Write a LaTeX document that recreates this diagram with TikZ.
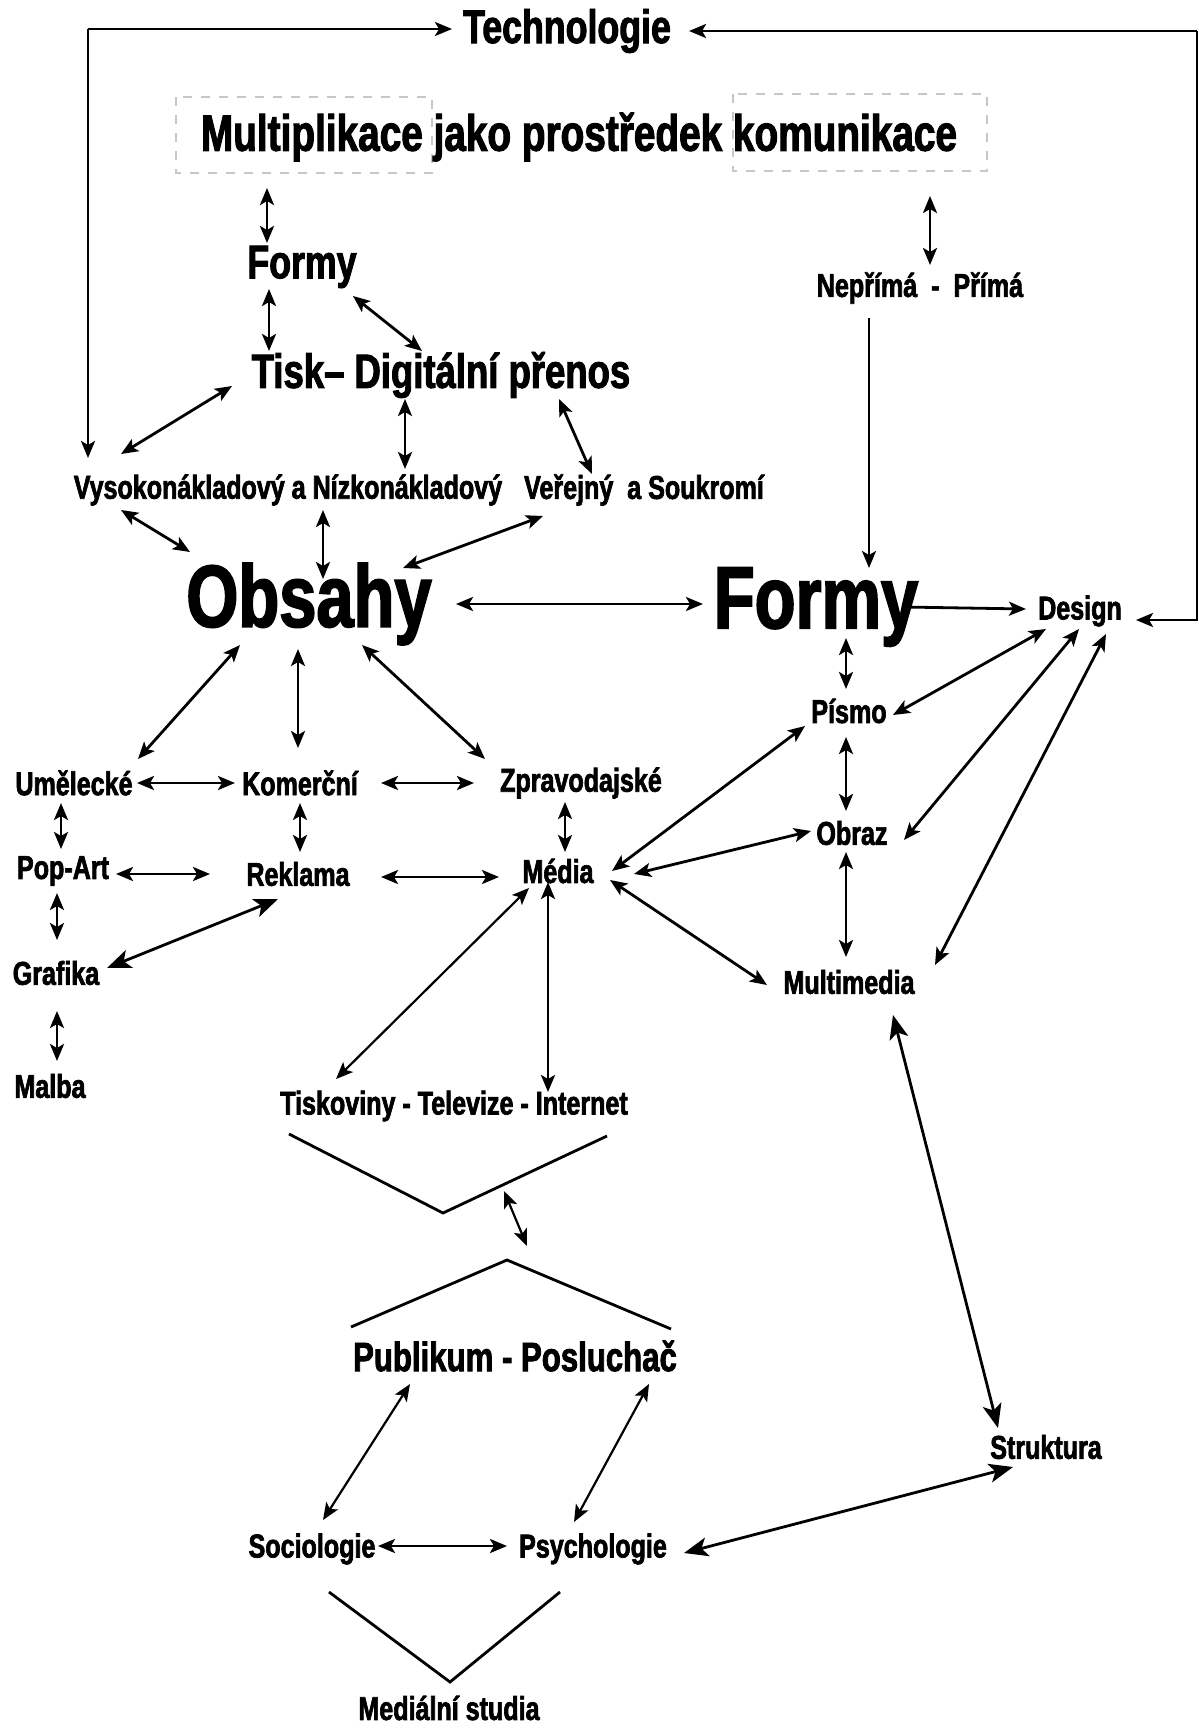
\documentclass[tikz,border=0pt]{standalone}
\usepackage{fontspec}
\setmainfont{Liberation Sans}[FakeStretch=0.76,BoldFeatures={FakeBold=2}]
\usetikzlibrary{arrows.meta}
\begin{document}
\begin{tikzpicture}[x=1pt,y=-1pt,
  every node/.style={inner sep=0pt,outer sep=0pt},
  sm/.style={font=\fontsize{33}{36}\selectfont\bfseries},
  md/.style={font=\fontsize{47}{50}\selectfont\bfseries},
  bg/.style={font=\fontsize{88}{90}\selectfont\bfseries},
  con/.style={line width=2.8pt},
  tip/.tip={Stealth[length=17pt,width=14pt,inset=4pt]},
  bigtip/.tip={Stealth[length=24pt,width=19pt,inset=6pt]},
  dbl/.style={con,tip-tip},
  one/.style={con,-tip},
  boxd/.style={draw=black!22,line width=1.6pt,dash pattern=on 9pt off 9pt},
  shp/.style={line width=2.8pt},
]
\fill[white] (0,0) rectangle (1199,1729);
\useasboundingbox (0,0) rectangle (1199,1729);

% dashed boxes
\draw[boxd] (176,97) rectangle (432,173);
\draw[boxd] (733,94) rectangle (987,171);

% nodes
\node[md] (tech) at (567,31) {Technologie};
\node[font=\fontsize{51}{55}\selectfont\bfseries] (multi) at (579,137) {Multiplikace jako prostředek komunikace};
\node[md] (formy1) at (302,267) {Formy};
\node[font=\fontsize{48}{51}\selectfont\bfseries] (tisk) at (441,375) {Tisk– Digitální přenos};
\node[sm] (vysoko) at (288,490) {Vysokonákladový a Nízkonákladový};
\node[sm] (verejny) at (644,490) {Veřejný\ \ a Soukromí};
\node[sm] (nepr) at (920,288) {Nepřímá\ \ -\ \ Přímá};
\node[bg] (obsahy) at (309,604) {Obsahy};
\node[bg] (formy2) at (816,607) {Formy};
\node[sm] (design) at (1080,611) {Design};
\node[sm] (pismo) at (849,711) {Písmo};
\node[sm] (obraz) at (852,833) {Obraz};
\node[sm] (multim) at (849,982) {Multimedia};
\node[sm] (umel) at (74,783) {Umělecké};
\node[sm] (komer) at (300,783) {Komerční};
\node[sm] (zprav) at (581,783) {Zpravodajské};
\node[sm] (popart) at (63,871) {Pop-Art};
\node[sm] (reklama) at (298,874) {Reklama};
\node[sm] (media) at (558,871) {Média};
\node[sm] (grafika) at (56,973) {Grafika};
\node[sm] (malba) at (50,1086) {Malba};
\node[sm] (tisko) at (454,1106) {Tiskoviny - Televize - Internet};
\node[font=\fontsize{41}{44}\selectfont\bfseries] (publ) at (515,1356) {Publikum - Posluchač};
\node[sm] (socio) at (312,1549) {Sociologie};
\node[sm] (psycho) at (593,1549) {Psychologie};
\node[sm] (strukt) at (1046,1447) {Struktura};
\node[sm] (medst) at (449,1708) {Mediální studia};

% frame arrows to Technologie
\coordinate (tl) at (88,29);
\coordinate (tr) at (1197,31);
\coordinate (br) at (1197,620);
\draw[one] (tl) -- ([shift={(-115,-2)}]tech.center);
\draw[one] (tl) -- ([shift={(-200,-32)}]vysoko.center);
\draw[one] (tr) -- ([shift={(122,0)}]tech.center);
\draw[one] (tr) -- (br) -- ([shift={(56,9)}]design.center);

% connectors
\draw[dbl] ([shift={(-312,51)}]multi.center) -- ([shift={(-35,-24)}]formy1.center);
\draw[dbl] ([shift={(-33,22)}]formy1.center) -- ([shift={(-172,-24)}]tisk.center);
\draw[dbl] ([shift={(51,29)}]formy1.center) -- ([shift={(-19,-24)}]tisk.center);
\draw[dbl] ([shift={(-209,11)}]tisk.center) -- ([shift={(-167,-36)}]vysoko.center);
\draw[dbl] ([shift={(-36,24)}]tisk.center) -- ([shift={(117,-21)}]vysoko.center);
\draw[dbl] ([shift={(118,24)}]tisk.center) -- ([shift={(-52,-16)}]verejny.center);
\draw[dbl] ([shift={(-167,20)}]vysoko.center) -- ([shift={(-119,-52)}]obsahy.center);
\draw[dbl] ([shift={(35,20)}]vysoko.center) -- ([shift={(14,-25)}]obsahy.center);
\draw[dbl] ([shift={(-101,26)}]verejny.center) -- ([shift={(94,-36)}]obsahy.center);
\draw[dbl] ([shift={(351,59)}]multi.center) -- ([shift={(10,-23)}]nepr.center);
\draw[one,line width=2.2pt] ([shift={(-51,30)}]nepr.center) -- ([shift={(53,-39)}]formy2.center);
\draw[dbl] ([shift={(147,0)}]obsahy.center) -- ([shift={(-113,-3)}]formy2.center);
\draw[one] ([shift={(88,0)}]formy2.center) -- ([shift={(-54,-2)}]design.center);
\draw[dbl] ([shift={(30,31)}]formy2.center) -- ([shift={(-3,-22)}]pismo.center);
\draw[dbl] ([shift={(-34,18)}]design.center) -- ([shift={(44,4)}]pismo.center);
\draw[dbl] ([shift={(-1,18)}]design.center) -- ([shift={(52,7)}]obraz.center);
\draw[dbl] ([shift={(26,23)}]design.center) -- ([shift={(86,-17)}]multim.center);
\draw[dbl] ([shift={(-3,26)}]pismo.center) -- ([shift={(-6,-22)}]obraz.center);
\draw[dbl] ([shift={(-6,19)}]obraz.center) -- ([shift={(-3,-25)}]multim.center);
\draw[dbl] ([shift={(-44,15)}]pismo.center) -- ([shift={(54,0)}]media.center);
\draw[dbl] ([shift={(-41,-2)}]obraz.center) -- ([shift={(76,3)}]media.center);
\draw[dbl] ([shift={(52,9)}]media.center) -- ([shift={(-82,3)}]multim.center);
\draw[con,bigtip-bigtip] ([shift={(44,33)}]multim.center) -- ([shift={(-48,-19)}]strukt.center);
\draw[con,bigtip-bigtip] ([shift={(-33,20)}]strukt.center) -- ([shift={(91,4)}]psycho.center);
\draw[dbl] ([shift={(-69,41)}]obsahy.center) -- ([shift={(64,-24)}]umel.center);
\draw[dbl] ([shift={(-11,45)}]obsahy.center) -- ([shift={(-2,-35)}]komer.center);
\draw[dbl] ([shift={(53,41)}]obsahy.center) -- ([shift={(-96,-24)}]zprav.center);
\draw[dbl] ([shift={(63,0)}]umel.center) -- ([shift={(-65,0)}]komer.center);
\draw[dbl] ([shift={(81,0)}]komer.center) -- ([shift={(-107,0)}]zprav.center);
\draw[dbl] ([shift={(-13,20)}]umel.center) -- ([shift={(-2,-22)}]popart.center);
\draw[dbl] ([shift={(0,20)}]komer.center) -- ([shift={(2,-22)}]reklama.center);
\draw[dbl] ([shift={(-16,19)}]zprav.center) -- ([shift={(7,-19)}]media.center);
\draw[dbl] ([shift={(53,3)}]popart.center) -- ([shift={(-88,0)}]reklama.center);
\draw[dbl] ([shift={(83,3)}]reklama.center) -- ([shift={(-59,6)}]media.center);
\draw[dbl] ([shift={(-6,22)}]popart.center) -- ([shift={(1,-33)}]grafika.center);
\draw[con,bigtip-bigtip] ([shift={(-20,25)}]reklama.center) -- ([shift={(51,-5)}]grafika.center);
\draw[dbl] ([shift={(1,38)}]grafika.center) -- ([shift={(7,-25)}]malba.center);
\draw[dbl,line width=2.2pt] ([shift={(-29,17)}]media.center) -- ([shift={(-118,-27)}]tisko.center);
\draw[dbl] ([shift={(-10,11)}]media.center) -- ([shift={(94,-14)}]tisko.center);
\draw[dbl,line width=2.2pt] ([shift={(-105,28)}]publ.center) -- ([shift={(11,-29)}]socio.center);
\draw[dbl,line width=2.2pt] ([shift={(134,28)}]publ.center) -- ([shift={(-19,-27)}]psycho.center);
\draw[dbl] ([shift={(66,-3)}]socio.center) -- ([shift={(-86,-3)}]psycho.center);

% V / Lambda shapes
\coordinate (v1) at (443,1213);
\coordinate (l1) at (507,1260);
\draw[shp] (289,1134) -- (v1) -- (607,1136);
\draw[shp] (351,1327) -- (l1) -- (671,1329);
\coordinate (va) at (504,1191);
\coordinate (vb) at (527,1246);
\draw[dbl,line width=2.2pt] (va) -- (vb);
\draw[shp] (329,1592) -- (450,1682) -- (560,1592);
\end{tikzpicture}
\end{document}
